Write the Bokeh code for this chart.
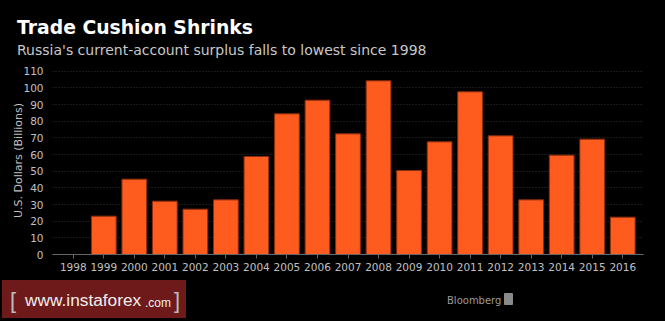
from bokeh.plotting import figure
from bokeh.models import Range1d, FixedTicker, Div
from bokeh.layouts import column
from bokeh.embed import file_html
from bokeh.resources import INLINE

# ---- data ----
years = list(range(1998, 2017))
surplus = [None, 23.0, 45.2, 32.0, 27.2, 32.8, 58.8, 84.4, 92.6, 72.4, 104.2,
           50.4, 67.6, 97.6, 71.2, 32.8, 59.6, 69.2, 22.4]
y_ticks = list(range(0, 111, 10))
title_text = "Trade Cushion Shrinks"
subtitle_text = "Russia's current-account surplus falls to lowest since 1998"
y_label = "U.S. Dollars (Billions)"
brand_text = "Bloomberg"

bar_years = [y for y, v in zip(years, surplus) if v is not None]
bar_vals = [v for v in surplus if v is not None]

HEADER_H = 60
FOOTER_H = 41
FIG_H = 321 - HEADER_H - FOOTER_H

p = figure(width=665, height=FIG_H, output_backend="svg", toolbar_location=None,
           x_range=Range1d(1997.32, 2016.68), y_range=Range1d(0, 112.8),
           min_border_left=52, min_border_right=22,
           min_border_top=6, min_border_bottom=FIG_H - 194)
p.background_fill_color = "black"
p.border_fill_color = "black"
p.outline_line_color = None

p.vbar(x=bar_years, top=bar_vals, width=0.81, bottom=0,
       fill_color="#fe5c1f", line_color="#8c2d0d", line_width=1)

# axes
p.xaxis.ticker = FixedTicker(ticks=years)
p.xaxis.axis_line_color = "#666666"
p.xaxis.major_tick_line_color = "#666666"
p.xaxis.major_tick_out = 4
p.xaxis.major_tick_in = 0
p.xaxis.minor_tick_line_color = None
p.xaxis.major_label_text_color = "#c0c0c0"
p.xaxis.major_label_text_font = "DejaVu Sans"
p.xaxis.major_label_text_font_size = "10.5px"
p.xaxis.major_label_standoff = 4

p.yaxis.ticker = FixedTicker(ticks=y_ticks)
p.yaxis.axis_line_color = None
p.yaxis.major_tick_line_color = None
p.yaxis.minor_tick_line_color = None
p.yaxis.major_label_text_color = "#c0c0c0"
p.yaxis.major_label_text_font = "DejaVu Sans"
p.yaxis.major_label_text_font_size = "10.5px"
p.yaxis.major_label_standoff = 3
p.yaxis.axis_label = y_label
p.yaxis.axis_label_text_color = "#c0c0c0"
p.yaxis.axis_label_text_font = "DejaVu Sans"
p.yaxis.axis_label_text_font_size = "11px"
p.yaxis.axis_label_text_font_style = "normal"
p.yaxis.axis_label_standoff = -5

p.xgrid.grid_line_color = None
p.ygrid.ticker = FixedTicker(ticks=y_ticks)
p.ygrid.grid_line_color = "#333333"
p.ygrid.grid_line_dash = "1 2"

header = Div(width=665, height=HEADER_H,
             styles={"background-color": "black", "margin": "0", "padding": "0",
                     "position": "relative", "overflow": "hidden"},
             text=(
                 f'<div style="position:absolute;left:17px;top:19px;line-height:1;'
                 f'font-family:\'DejaVu Sans\';font-weight:bold;font-size:18.8px;'
                 f'color:#ffffff;white-space:nowrap;">{title_text}</div>'
                 f'<div style="position:absolute;left:17px;top:43.2px;line-height:1;'
                 f'font-family:\'DejaVu Sans\';font-size:14px;color:#c8c8c8;'
                 f'white-space:nowrap;">{subtitle_text}</div>'
             ))

footer = Div(width=665, height=FOOTER_H,
             styles={"background-color": "black", "margin": "0", "padding": "0",
                     "position": "relative", "overflow": "hidden"},
             text=(
                 '<div style="position:absolute;left:2px;top:0px;width:184px;height:38px;'
                 'background:#6e1a1a;"></div>'
                 '<div style="position:absolute;left:10px;top:10.4px;line-height:1;'
                 'font-family:\'Liberation Sans\';font-size:22px;color:#bbbbbb;">[</div>'
                 '<div style="position:absolute;left:25px;top:12.2px;line-height:1;'
                 'font-family:\'Liberation Sans\';font-size:17.3px;color:#eeeeee;'
                 'white-space:nowrap;">www.instaforex</div>'
                 '<div style="position:absolute;left:145px;top:16.8px;line-height:1;'
                 'font-family:\'Liberation Sans\';font-size:12px;color:#eeeeee;">.com</div>'
                 '<div style="position:absolute;left:174px;top:10.4px;line-height:1;'
                 'font-family:\'Liberation Sans\';font-size:22px;color:#bbbbbb;">]</div>'
                 f'<div style="position:absolute;left:447px;top:15.5px;line-height:1;'
                 f'font-family:\'DejaVu Sans\';font-size:10px;color:#9a9a9a;'
                 f'white-space:nowrap;">{brand_text}</div>'
                 '<div style="position:absolute;left:504px;top:13px;width:9px;height:12px;'
                 'background:#8a8a8a;border-radius:1px;"></div>'
             ))

layout = column(header, p, footer, spacing=0, styles={"background-color": "black"})

open("out.html", "w").write(file_html(layout, INLINE))
